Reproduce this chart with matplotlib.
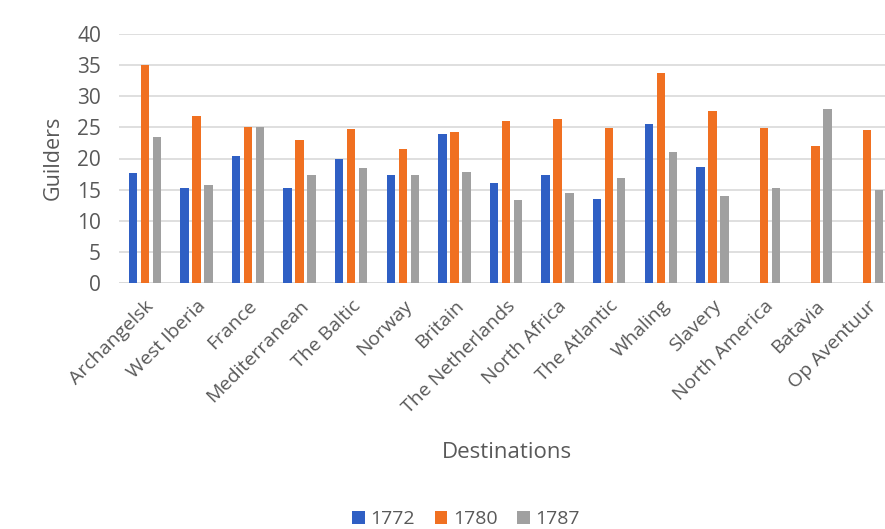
import matplotlib

matplotlib.use("Agg")
import matplotlib.pyplot as plt
import numpy as np

plt.rcParams["font.family"] = ["Open Sans", "DejaVu Sans"]

destinations = ["Archangelsk", "West Iberia", "France", "Mediterranean",
                "The Baltic", "Norway", "Britain", "The Netherlands",
                "North Africa", "The Atlantic", "Whaling", "Slavery",
                "North America", "Batavia", "Op Aventuur"]
years = ["1772", "1780", "1787"]
# guilders per destination; nan = no voyages that year
v1772 = [17.6, 15.2, 20.4, 15.2, 20.0, 17.3, 24.0, 16.0, 17.3, 13.5,
         25.5, 18.6, np.nan, np.nan, np.nan]
v1780 = [35.1, 26.9, 25.1, 22.9, 24.8, 21.6, 24.3, 26.1, 26.3, 24.9,
         33.7, 27.6, 24.9, 22.0, 24.5]
v1787 = [23.5, 15.7, 25.0, 17.3, 18.4, 17.3, 17.8, 13.3, 14.5, 16.8,
         21.0, 13.9, 15.2, 27.9, 14.9]
colours = ["#2F5FC4", "#F07021", "#A0A0A0"]

fig = plt.figure(figsize=(8.85, 5.29), dpi=100)
ax = fig.add_axes([119 / 885, 1 - 283 / 529, 774 / 885, 249 / 529])

x = np.arange(len(destinations))
width = 0.165
offset = 0.232
for i, (vals, yr, c) in enumerate(zip([v1772, v1780, v1787], years, colours)):
    ax.bar(x + (i - 1) * offset, vals, width, color=c, label=yr, zorder=3)

tick_col = "#595959"
ax.set_xlim(-0.5, len(destinations) - 0.5)
ax.set_ylim(0, 40)
ax.set_yticks(np.arange(0, 41, 5))
ax.yaxis.grid(True, color="#D9D9D9", lw=1.2, zorder=0)
ax.tick_params(axis="y", length=0, pad=13, labelsize=15, labelcolor=tick_col)
ax.tick_params(axis="x", length=0, pad=10)
ax.set_xticks(x)
ax.set_xticklabels(destinations, rotation=45, ha="right",
                   rotation_mode="anchor", fontsize=14, color=tick_col)
for s in ax.spines.values():
    s.set_visible(False)
ax.axhline(0, color="#D9D9D9", lw=1.2, zorder=2)

fig.text(53 / 885, 1 - 158 / 529, "Guilders", rotation=90, ha="center",
         va="center", fontsize=15.5, color=tick_col)
fig.text(507 / 885, 1 - 452 / 529, "Destinations", ha="center",
         va="center", fontsize=16, color=tick_col)

fig.legend(loc="center", bbox_to_anchor=(466 / 885, 1 - 519 / 529),
           ncol=3, frameon=False, fontsize=14, handlelength=0.65,
           handleheight=0.65, handletextpad=0.3, columnspacing=1.0,
           labelcolor=tick_col)

fig.savefig("out.png", dpi=100, facecolor="white")
